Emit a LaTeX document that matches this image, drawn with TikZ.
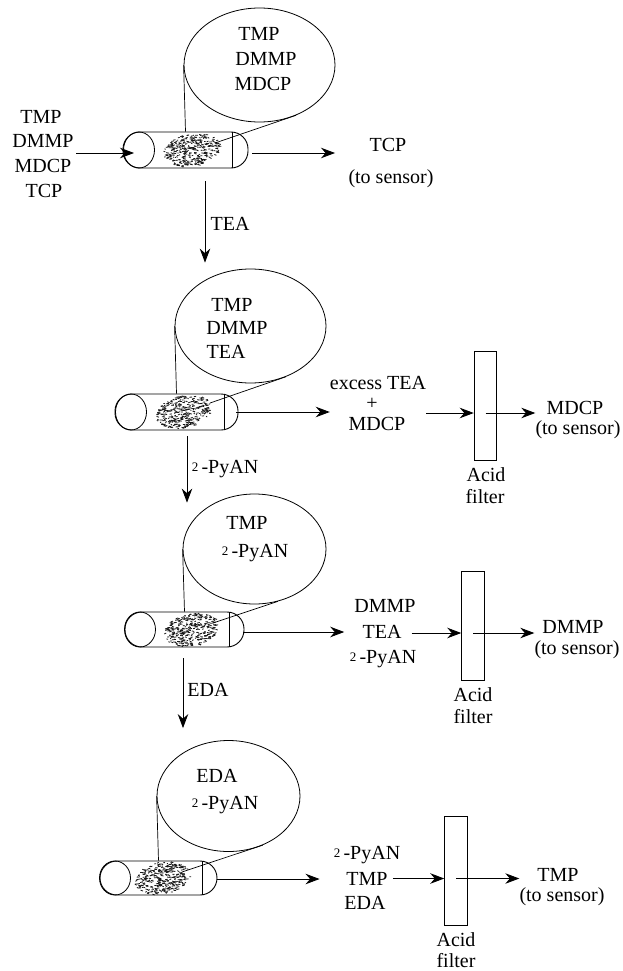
\documentclass[tikz,border=0pt]{standalone}
\usepackage{fontspec}
\setmainfont{Liberation Serif}
\usetikzlibrary{shapes.geometric, arrows.meta, positioning}

\newcommand{\packing}[2]{%
  \foreach \i in {1,...,340}{%
    \pgfmathsetmacro\ang{rnd*360}
    \pgfmathsetmacro\rr{sqrt(rnd)}
    \pgfmathsetmacro\gx{#1+27*\rr*cos(\ang)-6*\rr*sin(\ang)}
    \pgfmathsetmacro\gy{#2+16.5*\rr*sin(\ang)}
    \draw[grit] (\gx,\gy) -- ++(1+2*rnd,rand);
  }%
}
\newcommand{\pyan}{\raisebox{2.5pt}{\fontsize{13}{13}\selectfont 2}\,-PyAN}

\begin{document}
\begin{tikzpicture}[
  x=1pt, y=-1pt,
  lab/.style={inner sep=0pt, font=\fontsize{20}{24}\selectfont, text height=13pt, text depth=0pt},
  balloon/.style={draw, ellipse, inner sep=0pt, line width=.8pt},
  tube/.style={draw, rectangle, inner sep=0pt, line width=.9pt, rounded corners=17pt},
  endcap/.style={draw, ellipse, inner sep=0pt, line width=.8pt, minimum width=31pt},
  filt/.style={draw, rectangle, inner sep=0pt, minimum width=22.5pt, minimum height=109pt, line width=1pt},
  wire/.style={line width=.7pt},
  grit/.style={line width=.8pt, black!90},
  arr/.style={-{Stealth[length=14pt, width=10.5pt]}, line width=.9pt}
]
\useasboundingbox (0,0) rectangle (623,971);
\fill[white] (0,0) rectangle (623,971);

\pgfmathsetseed{7}

\node[tube, minimum width=125pt, minimum height=36pt] (col1) at (185.5,150) {};
\node[endcap, minimum height=36pt] (cap1) at (139,150) {};
\draw[wire] (232,132) -- (232,168);
\packing{191}{150}
\coordinate (pack1) at (215,143);
\node[balloon, minimum width=151pt, minimum height=114pt] (ball1) at (259.5,65) {};
\draw[wire] (ball1.west) -- (col1.north);
\draw[wire] (ball1.-54) -- (pack1);
\node[lab] (b1a) at (259,34) {TMP};
\node[lab] (b1b) at (266,59) {DMMP};
\node[lab] (b1c) at (263,84) {MDCP};
\node[lab] (feed1) at (41,117) {TMP};
\node[lab] (feed2) at (43,141) {DMMP};
\node[lab] (feed3) at (43,166) {MDCP};
\node[lab] (feed4) at (44,191) {TCP};
\coordinate (feedin) at (76,153);
\draw[arr, shorten >=5pt] (feedin) -- (feedin -| cap1.center);
\node[lab] (tcp) at (388,145) {TCP};
\node[lab] (tcps) at (391,177) {(to sensor)};
\coordinate (out1) at (335,153);
\draw[arr, shorten <=4pt] ([yshift=-3pt]col1.east) -- (out1);
\coordinate (drop1) at (205,181);
\node[lab] (tea1) at (230,224) {TEA};

\node[tube, minimum width=123pt, minimum height=36pt] (col2) at (176.5,412) {};
\node[endcap, minimum height=36pt] (cap2) at (131,412) {};
\draw[wire] (224,394) -- (224,430);
\packing{183}{412}
\coordinate (pack2) at (210,403);
\node[balloon, minimum width=151pt, minimum height=114pt] (ball2) at (250.5,326) {};
\draw[wire] (ball2.west) -- (col2.north);
\draw[wire] (ball2.-55) -- (pack2);
\draw[arr, shorten >=6pt] (drop1) -- (drop1 |- ball2.north);
\node[lab] (b2a) at (232,305) {TMP};
\node[lab] (b2b) at (237,328) {DMMP};
\node[lab] (b2c) at (226,352) {TEA};
\node[lab] (mix2a) at (378,383) {excess TEA};
\node[lab] (mix2b) at (372,403) {+};
\node[lab] (mix2c) at (377,424) {MDCP};
\draw[arr] ([xshift=-2pt]col2.east) -- (col2.east -| mix2a.west);
\node[filt] (filt2) at (485.5,405.5) {};
\draw[arr] (mix2a.east |- filt2.center) ++(0,7.5) -- ([yshift=-7.5pt]filt2.west);
\node[lab] (out2a) at (575,408) {MDCP};
\node[lab] (out2b) at (578,428) {(to sensor)};
\draw[arr] ([yshift=-7.5pt]filt2.center) -- ([yshift=-7.5pt]filt2.center -| out2b.west);
\node[lab] (acid2) at (486,475) {Acid};
\node[lab] (fil2) at (485,497) {filter};
\coordinate (drop2) at (187,436);
\node[lab] (pyan2) at (225,467) {\pyan};

\node[tube, minimum width=119pt, minimum height=35pt] (col3) at (184.5,629.5) {};
\node[endcap, minimum height=35pt] (cap3) at (140,629.5) {};
\draw[wire] (229,612) -- (229,647);
\packing{191}{630}
\coordinate (pack3) at (213,623);
\node[balloon, minimum width=143pt, minimum height=110pt] (ball3) at (254.5,549) {};
\draw[wire] (ball3.west) -- (col3.north);
\draw[wire] (ball3.-66) -- (pack3);
\draw[arr, shorten >=-9pt] (drop2) -- (drop2 |- ball3.north);
\node[lab] (b3a) at (247,523) {TMP};
\node[lab] (b3b) at (255,551) {\pyan};
\node[lab] (mix3a) at (385,606) {DMMP};
\node[lab] (mix3b) at (382,632) {TEA};
\node[lab] (mix3c) at (383,657) {\pyan};
\draw[arr, shorten <=-1pt, shorten >=10pt] ([yshift=-2.5pt]col3.east) -- ([yshift=-2.5pt]col3.east -| mix3a.west);
\node[filt] (filt3) at (473,626) {};
\draw[arr, shorten <=10pt] (mix3b.east |- filt3.center) ++(0,7) -- ([yshift=-7pt]filt3.west);
\node[lab] (out3a) at (573,627) {DMMP};
\node[lab] (out3b) at (577,648) {(to sensor)};
\draw[arr] ([yshift=-7pt]filt3.center) -- ([yshift=-7pt]filt3.center -| out3b.west);
\node[lab] (acid3) at (473,695) {Acid};
\node[lab] (fil3) at (473,717) {filter};
\coordinate (drop3) at (183,658);
\node[lab] (eda3) at (208,690) {EDA};

\node[tube, minimum width=117pt, minimum height=34pt] (col4) at (158.5,878) {};
\node[endcap, minimum height=34pt] (cap4) at (115,878) {};
\draw[wire] (202,861) -- (202,895);
\packing{162}{878}
\coordinate (pack4) at (182,872);
\node[balloon, minimum width=143pt, minimum height=111pt] (ball4) at (228.5,796) {};
\draw[wire] (ball4.west) -- (col4.north);
\draw[wire] (ball4.-55) -- (pack4);
\draw[arr, shorten >=12pt] (drop3) -- (drop3 |- ball4.north);
\node[lab] (b4a) at (217,776) {EDA};
\node[lab] (b4b) at (225,803) {\pyan};
\node[lab] (mix4a) at (367,853) {\pyan};
\node[lab] (mix4b) at (367,879) {TMP};
\node[lab] (mix4c) at (365,903) {EDA};
\draw[arr, shorten >=14pt] ([yshift=-1pt]col4.east) -- ([yshift=-1pt]col4.east -| mix4a.west);
\node[filt] (filt4) at (456,871) {};
\draw[arr, shorten <=5pt] (mix4b.east |- filt4.center) ++(0,7.5) -- ([yshift=-7.5pt]filt4.west);
\node[lab] (out4a) at (558,875) {TMP};
\node[lab] (out4b) at (562,895) {(to sensor)};
\draw[arr] ([yshift=-7.5pt]filt4.center) -- ([yshift=-7.5pt]filt4.center -| out4b.west);
\node[lab] (acid4) at (456,940) {Acid};
\node[lab] (fil4) at (456,961) {filter};
\end{tikzpicture}
\end{document}
